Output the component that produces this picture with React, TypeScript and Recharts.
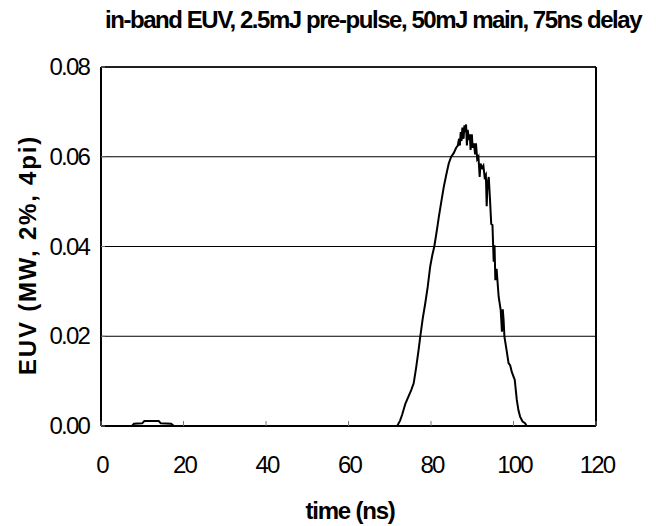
import { LineChart, Line, XAxis, YAxis, CartesianGrid, ReferenceLine } from "recharts"

// time axis (ns) and in-band EUV power (MW, 2%, 4pi)
const timeNs = [
  0, 7.5, 8, 10, 10.5, 14, 14.5, 17, 17.7,
  71.8, 72.5, 73.0, 73.8, 74.5, 75.2, 75.8, 76.4, 77.0, 77.4, 78.0, 78.6, 79.2, 79.8,
  80.3, 80.8, 81.4, 81.9, 82.5, 83.1, 83.7, 84.3, 84.9, 85.5, 86.1, 86.5, 86.8,
  87.0, 87.2, 87.4, 87.6, 87.9, 88.1, 88.3, 88.5, 88.7, 88.9, 89.2, 89.4, 89.6,
  89.9, 90.1, 90.4, 90.7, 90.9, 91.2, 91.5, 91.8, 92.0, 92.4, 92.7, 93.0, 93.3,
  93.5, 93.7, 94.0, 94.3, 94.6, 94.9, 95.2, 95.4, 95.6, 95.9, 96.4, 96.9, 97.2,
  97.4, 97.6, 97.8, 98.3, 98.8, 99.2, 99.6, 100.3, 100.8, 101.2, 101.6, 102.2,
  102.8, 103.2, 120,
]
const euvMW = [
  0, 0, 0.0005, 0.0006, 0.0011, 0.0011, 0.0006, 0.0005, 0,
  0, 0.0012, 0.0025, 0.005, 0.0065, 0.008, 0.0095, 0.013, 0.017, 0.0199, 0.024, 0.0273, 0.031, 0.0355,
  0.038, 0.04, 0.0435, 0.0466, 0.05, 0.0533, 0.056, 0.0585, 0.06, 0.0608, 0.062, 0.0625, 0.064,
  0.0625, 0.0655, 0.0635, 0.0665, 0.064, 0.067, 0.0655, 0.0672, 0.0625, 0.066, 0.0637, 0.065, 0.0615,
  0.065, 0.062, 0.063, 0.0605, 0.063, 0.0595, 0.06, 0.0555, 0.0585, 0.0575, 0.058, 0.0555, 0.056,
  0.049, 0.054, 0.0555, 0.0505, 0.045, 0.0448, 0.0366, 0.0403, 0.0325, 0.035, 0.0288, 0.0258, 0.021,
  0.026, 0.0236, 0.0199, 0.017, 0.014, 0.0135, 0.012, 0.0103, 0.0058, 0.0035, 0.0021, 0.001,
  0.0006, 0, 0,
]

const xTicks = [0, 20, 40, 60, 80, 100, 120]
const yTicks = [0, 0.02, 0.04, 0.06, 0.08]

const data = timeNs.map((t, i) => ({ t, v: euvMW[i] }))

const FONT = '"Liberation Sans", Arial, sans-serif'

const XTick = ({ x, y, payload }: any) => (
  <g>
    <line x1={x} y1={y} x2={x} y2={y - 5} stroke="#777" strokeWidth={1} />
    <text x={x + 1} y={y + 47} textAnchor="middle" fontFamily={FONT} fontSize={24} letterSpacing={-1.8} fill="#000">
      {payload.value}
    </text>
  </g>
)

const YTick = ({ x, y, payload }: any) => (
  <g>
    <line x1={x} y1={y} x2={x + 4} y2={y} stroke="#777" strokeWidth={1} />
    <text x={x - 12} y={y + 8} textAnchor="end" fontFamily={FONT} fontSize={24} letterSpacing={-1.8} fill="#000">
      {payload.value.toFixed(2)}
    </text>
  </g>
)

export default function App() {
  return (
    <div style={{ position: "absolute", left: 0, top: 0, width: 656, height: 526, background: "#fff" }}>
      <div
        style={{
          position: "absolute", left: 105, top: 8, whiteSpace: "nowrap", lineHeight: "24px",
          fontFamily: FONT, fontWeight: "bold", fontSize: 24, letterSpacing: -1.45,
        }}
      >
        in-band EUV, 2.5mJ pre-pulse, 50mJ main, 75ns delay
      </div>
      <LineChart width={656} height={526} data={data} margin={{ top: 67, right: 60, left: 0, bottom: 0 }}>
        <CartesianGrid horizontal vertical={false} stroke="#000" strokeWidth={1} />
        <XAxis
          dataKey="t"
          type="number"
          domain={[0, 120]}
          ticks={xTicks}
          height={100}
          tickSize={0}
          tickMargin={0}
          tickLine={false}
          axisLine={{ stroke: "#000", strokeWidth: 2 }}
          tick={<XTick />}
          interval={0}
        />
        <YAxis
          domain={[0, 0.08]}
          ticks={yTicks}
          width={101}
          tickSize={0}
          tickMargin={0}
          tickLine={false}
          axisLine={{ stroke: "#000", strokeWidth: 2 }}
          tick={<YTick />}
          interval={0}
        />
        <ReferenceLine x={120} stroke="#000" strokeWidth={2} />
        <ReferenceLine y={0.08} stroke="#000" strokeWidth={1.5} />
        <Line
          dataKey="v"
          type="linear"
          stroke="#000"
          strokeWidth={2}
          dot={false}
          isAnimationActive={false}
        />
      </LineChart>
      <div
        style={{
          position: "absolute", left: 100, width: 500, top: 499, textAlign: "center", lineHeight: "24px",
          fontFamily: FONT, fontWeight: "bold", fontSize: 24, letterSpacing: -1.2,
        }}
      >
        time (ns)
      </div>
      <div
        style={{
          position: "absolute", left: 28, top: 255, width: 300, marginLeft: -150, textAlign: "center",
          transform: "translateY(-50%) rotate(-90deg)", fontFamily: FONT, fontWeight: "bold", fontSize: 24,
          lineHeight: "24px", letterSpacing: 1.8, whiteSpace: "nowrap",
        }}
      >
        EUV (MW, 2%, 4pi)
      </div>
    </div>
  )
}
